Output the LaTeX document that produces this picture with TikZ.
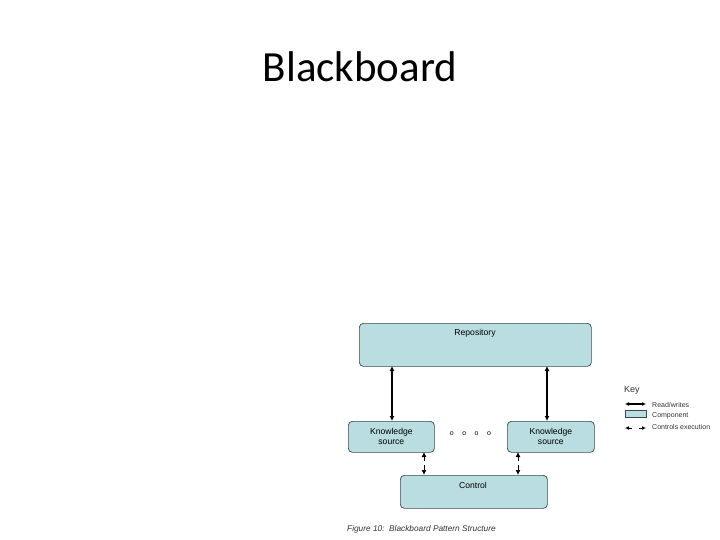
\documentclass[tikz,border=0pt]{standalone}
\usepackage{fontspec}
\setmainfont{Liberation Sans}
\newfontfamily\titlefont{Carlito}
\usetikzlibrary{arrows.meta}
\definecolor{compfill}{HTML}{B9DDE0}
\definecolor{compline}{HTML}{3A4A4C}
\tikzset{
  comp/.style={draw=compline, line width=0.7pt, fill=compfill, rounded corners=4pt, inner sep=0pt, font=\fontsize{8.6}{10}\selectfont, align=center},
  rw/.style={line width=1.3pt, {Latex[length=5pt,width=5pt]}-{Latex[length=5pt,width=5pt]}},
  lbl/.style={font=\fontsize{7}{8}\selectfont, anchor=west, inner sep=0pt, text=black!80}
}
\begin{document}
\begin{tikzpicture}[x=1pt,y=-1pt]
\useasboundingbox (0,0) rectangle (720,540);
\node[font=\titlefont\fontsize{43}{50}\selectfont] (title) at (360,67) {Blackboard};

\node[comp, minimum width=232pt, minimum height=43pt, anchor=north west] (repo) at (359,323) {};
\node[font=\fontsize{8.6}{10}\selectfont] (repot) at (475,333) {Repository};
\node[comp, minimum width=86pt, minimum height=31pt, anchor=north west] (ks1) at (348,421) {Knowledge\\source};
\node[comp, minimum width=87pt, minimum height=31pt, anchor=north west] (ks2) at (507,421) {Knowledge\\source};
\node[comp, minimum width=147pt, minimum height=33pt, anchor=north west] (ctrl) at (400,475) {};
\node[font=\fontsize{8.6}{10}\selectfont] (ctrlt) at (473,485) {Control};

\node[font=\fontsize{7}{8}\selectfont] (dots) at (470.5,434) {o\hspace{8.5pt}o\hspace{8.5pt}o\hspace{8.5pt}o};

\coordinate (a1t) at (392,366); \coordinate (a1b) at (392,421);
\coordinate (a2t) at (547,366); \coordinate (a2b) at (547,421);
\draw[rw] (a1t) -- (a1b);
\draw[rw] (a2t) -- (a2b);
\coordinate (c1t) at (424,452); \coordinate (c1b) at (424,475);
\coordinate (c2t) at (518,452); \coordinate (c2b) at (518,475);
\draw[line width=0.9pt, -{Latex[length=5pt,width=5pt]}] (424,461) -- (c1t);
\draw[line width=0.9pt, -{Latex[length=5pt,width=5pt]}] (424,465) -- (c1b);
\draw[line width=0.9pt, -{Latex[length=5pt,width=5pt]}] (518,461) -- (c2t);
\draw[line width=0.9pt, -{Latex[length=5pt,width=5pt]}] (518,465) -- (c2b);

\node[font=\itshape\fontsize{8.3}{9}\selectfont, anchor=west, inner sep=0pt, text=black!80] (cap) at (347,529) {Figure 10:\ \ Blackboard Pattern Structure};

% key
\node[font=\fontsize{9}{10}\selectfont, anchor=west, inner sep=0pt, text=black!80] (key) at (624,390) {Key};
\coordinate (k1a) at (625,404); \coordinate (k1b) at (646,404);
\draw[line width=1.1pt, {Latex[length=4pt,width=4pt]}-{Latex[length=4pt,width=4pt]}] (k1a) -- (k1b);
\node[lbl] (k1t) at (652,405) {Read/writes};
\node[draw=compline, fill=compfill, line width=0.5pt, minimum width=21pt, minimum height=7pt, anchor=north west, inner sep=0pt] (k2) at (625,410) {};
\node[lbl] (k2t) at (652,416) {Component};
\draw[line width=0.8pt, -{Latex[length=4pt,width=4pt]}] (632,428) -- (625,428);
\draw[line width=0.8pt, -{Latex[length=4pt,width=4pt]}] (639,428) -- (646,428);
\node[lbl] (k3t) at (652,427) {Controls execution};
\end{tikzpicture}
\end{document}
